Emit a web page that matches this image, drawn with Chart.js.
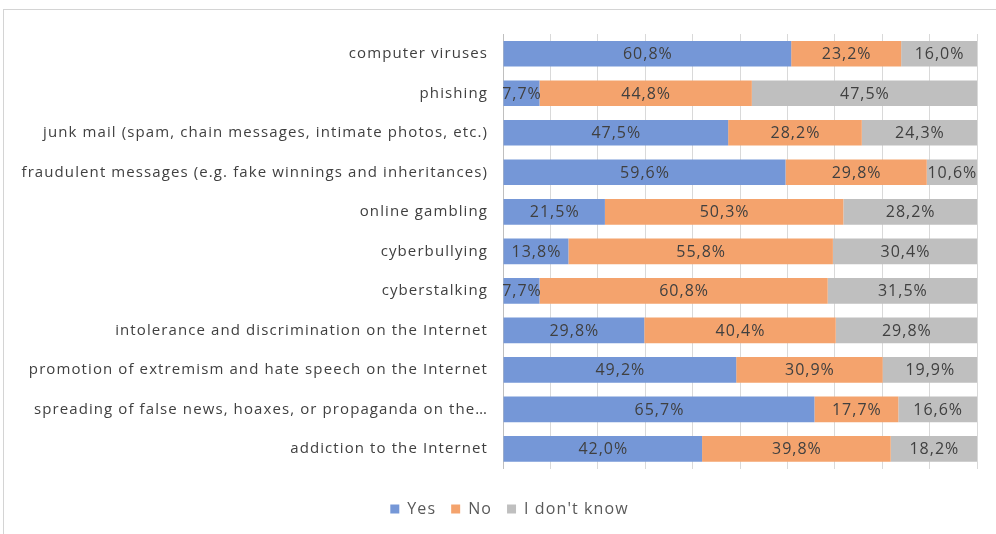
<!DOCTYPE html>
<html>
<head>
<meta charset="utf-8">
<script src="https://cdn.jsdelivr.net/npm/chart.js@4/dist/chart.umd.min.js"></script>
<style>
  html, body { margin: 0; padding: 0; background: #ffffff; }
  #wrap { position: relative; width: 996px; height: 534px; overflow: hidden; }
  #frame { position: absolute; left: 3px; top: 9px; width: 1100px; height: 600px; border: 1px solid #D4D4D4; box-sizing: border-box; }
  canvas { position: absolute; left: 0; top: 0; }
</style>
</head>
<body>
<div id="wrap">
  <div id="frame"></div>
  <canvas id="c" width="996" height="534"></canvas>
</div>
<script>
const categories = [
  "computer viruses",
  "phishing",
  "junk mail (spam, chain messages, intimate photos, etc.)",
  "fraudulent messages (e.g. fake winnings and inheritances)",
  "online gambling",
  "cyberbullying",
  "cyberstalking",
  "intolerance and discrimination on the Internet",
  "promotion of extremism and hate speech on the Internet",
  "spreading of false news, hoaxes, or propaganda on the\u2026",
  "addiction to the Internet"
];
const seriesNames = ["Yes", "No", "I don't know"];
const yesValues = [60.8, 7.7, 47.5, 59.6, 21.5, 13.8, 7.7, 29.8, 49.2, 65.7, 42.0];
const noValues = [23.2, 44.8, 28.2, 29.8, 50.3, 55.8, 60.8, 40.4, 30.9, 17.7, 39.8];
const dontKnowValues = [16.0, 47.5, 24.3, 10.6, 28.2, 30.4, 31.5, 29.8, 19.9, 16.6, 18.2];
const colors = ["#7597D7", "#F4A36D", "#BFBFBF"];

const FONT = "'Open Sans', sans-serif";

const spacingPlugin = {
  id: 'spacing',
  beforeInit(chart) { chart.ctx.letterSpacing = '1.1px'; },
  beforeUpdate(chart) { chart.ctx.letterSpacing = '1.1px'; },
  afterLayout(chart) {
    if (chart.legend) { chart.legend.left += 21; chart.legend.right += 21; }
  },
  beforeDraw(chart) { chart.ctx.letterSpacing = '1.1px'; }
};

const dataLabelPlugin = {
  id: 'dataLabels',
  afterDatasetsDraw(chart) {
    const ctx = chart.ctx;
    ctx.save();
    ctx.letterSpacing = '1px';
    ctx.font = "16px " + FONT;
    ctx.fillStyle = "#404040";
    ctx.textAlign = "center";
    ctx.textBaseline = "middle";
    chart.data.datasets.forEach((ds, di) => {
      const meta = chart.getDatasetMeta(di);
      meta.data.forEach((el, i) => {
        const p = el.getProps(['x', 'y', 'base'], true);
        const cx = (p.x + p.base) / 2 + 0.5;
        const txt = ds.data[i].toFixed(1).replace('.', ',') + '%';
        ctx.fillText(txt, cx, p.y + 1);
      });
    });
    ctx.restore();
  }
};

const datasets = [yesValues, noValues, dontKnowValues].map((vals, i) => ({
  label: seriesNames[i],
  data: vals,
  backgroundColor: colors[i],
  borderWidth: 0,
  categoryPercentage: 1.0,
  barPercentage: 0.65
}));

new Chart(document.getElementById('c'), {
  type: 'bar',
  data: { labels: categories, datasets },
  options: {
    indexAxis: 'y',
    responsive: false,
    animation: false,
    devicePixelRatio: 1,
    layout: { padding: { top: 34, right: 19, bottom: 7, left: 0 } },
    scales: {
      x: {
        stacked: true,
        min: 0,
        max: 100,
        ticks: { display: false, stepSize: 10 },
        grid: { color: '#D9D9D9', lineWidth: 1, drawTicks: false },
        border: { display: false },
        afterFit(scale) { scale.height = 17.4; }
      },
      y: {
        stacked: true,
        ticks: { color: '#404040', font: { family: FONT, size: 15 }, padding: 15, autoSkip: false },
        grid: { display: false, drawTicks: false },
        border: { display: true, color: '#BFBFBF', width: 1 },
        afterFit(scale) { scale.width = 503; }
      }
    },
    plugins: {
      legend: {
        position: 'bottom',
        labels: {
          color: '#595959',
          font: { family: FONT, size: 16 },
          boxWidth: 9,
          boxHeight: 9,
          padding: 15
        }
      },
      tooltip: { enabled: false }
    }
  },
  plugins: [spacingPlugin, dataLabelPlugin]
});
</script>
</body>
</html>
